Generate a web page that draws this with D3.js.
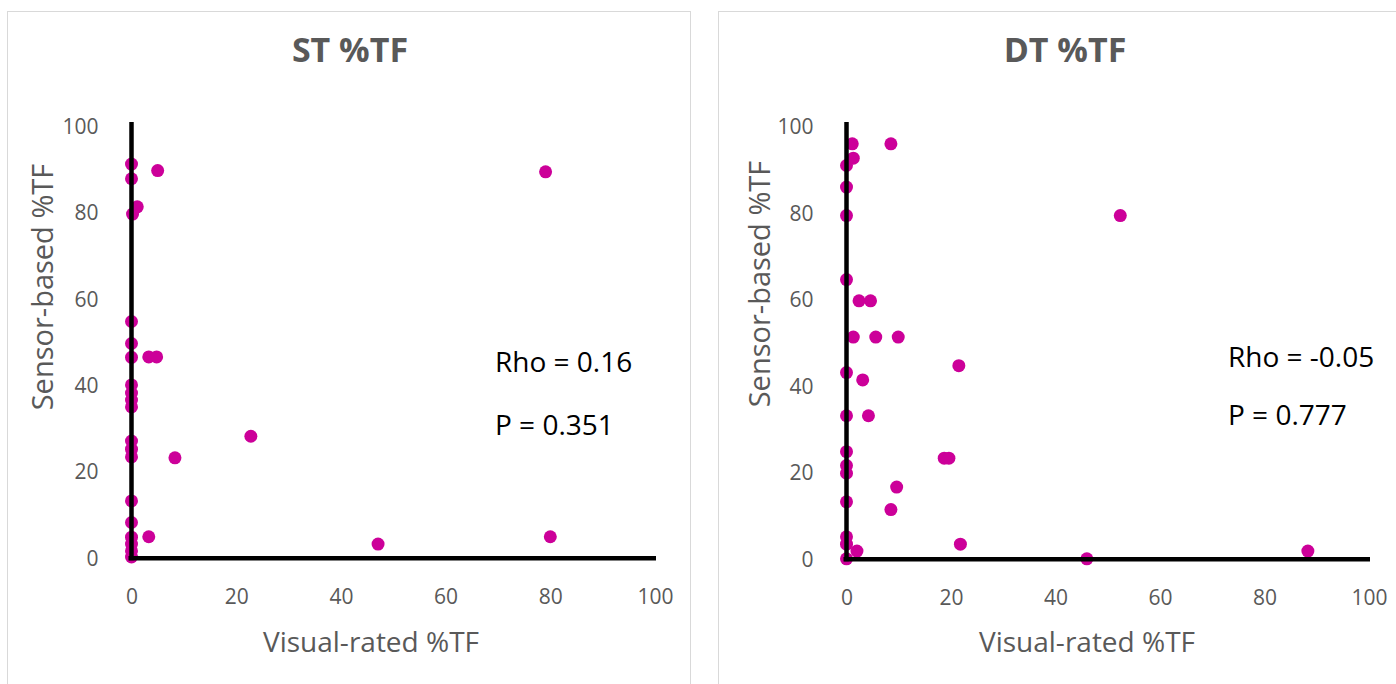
<!DOCTYPE html>
<html>
<head>
<meta charset="utf-8">
<script src="https://cdn.jsdelivr.net/npm/d3@7"></script>
<style>
  body { margin: 0; background: #fff; }
  text { font-family: "Open Sans", sans-serif; }
</style>
</head>
<body>
<script>
var ticks = [0, 20, 40, 60, 80, 100];

// ST %TF: visual-rated (x) vs sensor-based (y)
var stX = [0, 0, 5.0, 1.1, 0.2, 0, 0, 0, 3.3, 4.8, 0, 0, 0, 0, 8.3, 22.8, 0, 0, 0, 0, 0, 3.3, 0, 0, 0, 0, 47.1, 80.0, 79.1];
var stY = [91.4, 88.0, 89.9, 81.5, 79.8, 54.9, 49.8, 46.6, 46.7, 46.7, 40.2, 38.3, 36.7, 35.1, 23.3, 28.3, 27.2, 25.3, 23.5, 13.3, 8.3, 5.0, 4.9, 3.3, 1.7, 0.3, 3.3, 5.0, 89.6];

// DT %TF
var dtX = [1.1, 8.5, 1.3, 0, 0, 0, 0, 2.4, 4.6, 1.3, 5.6, 9.9, 21.5, 0, 3.1, 0, 4.2, 0, 18.7, 19.6, 0, 0, 9.6, 0, 8.5, 0, 0, 2.0, 21.8, 0, 52.4, 46.0, 88.3];
var dtY = [96.1, 96.1, 92.8, 91.1, 86.1, 79.5, 64.7, 59.8, 59.8, 51.4, 51.4, 51.4, 44.8, 43.2, 41.5, 33.2, 33.2, 24.9, 23.4, 23.4, 21.7, 19.9, 16.7, 13.3, 11.5, 5.2, 3.5, 1.9, 3.5, 0.1, 79.5, 0.1, 1.9];

var panels = [
  { title: "ST %TF", xs: stX, ys: stY, rho: "Rho = 0.16", p: "P = 0.351",
    box: [7.5, 11.5, 683], left: 131.5, right: 655, top: 127, bottom: 558.3,
    titleX: 350, xTitleX: 371, yTitleY: 287, yTitleX: 43, statX: 495, rhoY: 362, pY: 425 },
  { title: "DT %TF", xs: dtX, ys: dtY, rho: "Rho = -0.05", p: "P = 0.777",
    box: [718.5, 11.5, 700], left: 846.5, right: 1369, top: 127, bottom: 559.3,
    titleX: 1065, xTitleX: 1087, yTitleY: 284, yTitleX: 760, statX: 1228, rhoY: 357, pY: 415 }
];

var svg = d3.select("body").append("svg")
  .attr("width", 1396)
  .attr("height", 684);

panels.forEach(function(pn) {
  var x = d3.scaleLinear().domain([0, 100]).range([pn.left, pn.right]);
  var y = d3.scaleLinear().domain([0, 100]).range([pn.bottom, pn.top]);

  var g = svg.append("g");

  g.append("rect")
    .attr("x", pn.box[0]).attr("y", pn.box[1])
    .attr("width", pn.box[2]).attr("height", 700)
    .attr("fill", "#fff")
    .attr("stroke", "#d9d9d9")
    .attr("stroke-width", 1);

  g.append("text")
    .attr("x", pn.titleX).attr("y", 50)
    .attr("dy", "0.35em")
    .attr("text-anchor", "middle")
    .attr("fill", "#595959")
    .style("font-size", "34px")
    .style("font-weight", "bold")
    .text(pn.title);

  // points under the axes
  g.append("g")
    .selectAll("circle")
    .data(pn.xs)
    .enter()
    .append("circle")
    .attr("cx", function(d) { return x(d); })
    .attr("cy", function(d, i) { return y(pn.ys[i]); })
    .attr("r", 6.5)
    .attr("fill", "#cc0099");

  // tick labels
  var yAxis = g.append("g")
    .attr("transform", "translate(" + x(0) + ",0)")
    .call(d3.axisLeft(y).tickValues(ticks).tickSize(0).tickPadding(33));
  var xAxis = g.append("g")
    .attr("transform", "translate(0," + y(0) + ")")
    .call(d3.axisBottom(x).tickValues(ticks).tickSize(0).tickPadding(31));

  [yAxis, xAxis].forEach(function(a) {
    a.select(".domain").remove();
    a.selectAll("text")
      .attr("fill", "#595959")
      .style("font-size", "21px")
      .style("font-family", "'Open Sans', sans-serif");
  });
  xAxis.selectAll("text").attr("dy", "0.71em");

  // thick axis lines
  g.append("line")
    .attr("x1", x(0)).attr("x2", x(0))
    .attr("y1", y(100) - 5).attr("y2", y(0) + 2)
    .attr("stroke", "#000").attr("stroke-width", 4.5);
  g.append("line")
    .attr("x1", x(0) - 3).attr("x2", x(100) + 1)
    .attr("y1", y(0)).attr("y2", y(0))
    .attr("stroke", "#000").attr("stroke-width", 4.5);

  g.append("text")
    .attr("x", pn.xTitleX).attr("y", 642)
    .attr("dy", "0.35em")
    .attr("text-anchor", "middle")
    .attr("fill", "#595959")
    .style("font-size", "28px")
    .text("Visual-rated %TF");

  g.append("text")
    .attr("transform", "translate(" + pn.yTitleX + "," + pn.yTitleY + ") rotate(-90)")
    .attr("dy", "0.35em")
    .attr("text-anchor", "middle")
    .attr("fill", "#595959")
    .style("font-size", "29px")
    .text("Sensor-based %TF");

  g.append("text")
    .attr("x", pn.statX).attr("y", pn.rhoY)
    .attr("dy", "0.35em")
    .attr("fill", "#000")
    .style("font-size", "28px")
    .text(pn.rho);
  g.append("text")
    .attr("x", pn.statX).attr("y", pn.pY)
    .attr("dy", "0.35em")
    .attr("fill", "#000")
    .style("font-size", "28px")
    .text(pn.p);
});
</script>
</body>
</html>
